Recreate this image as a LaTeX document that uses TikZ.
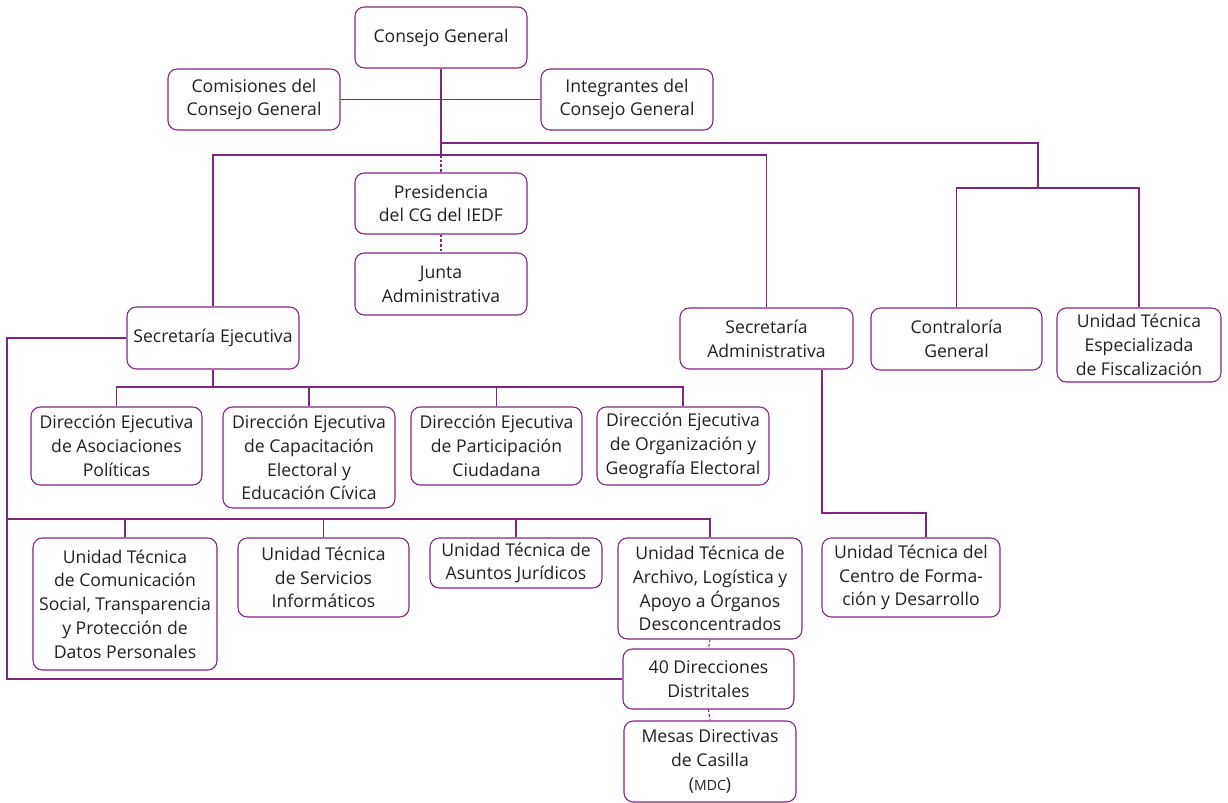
\documentclass[tikz,border=0pt]{standalone}
\usepackage{fontspec}
\setmainfont{Open Sans}
\usetikzlibrary{calc}

\definecolor{morado}{RGB}{128,38,128}
\definecolor{texto}{RGB}{35,31,32}

\begin{document}
\begin{tikzpicture}[x=0.75pt, y=-0.75pt,
    caja/.style={draw=morado, line width=0.8pt, rounded corners=7pt, align=center,
      inner sep=0pt, text=texto, font=\fontsize{13.2}{17.8}\selectfont},
    wd/.style={minimum width=#1*0.75pt},
    ht/.style={minimum height=#1*0.75pt},
    liga/.style={draw=morado, line width=0.8pt},
    punteada/.style={liga, dash pattern=on 2pt off 1.5pt}]
    \useasboundingbox (0,0) rectangle (1228,803);

    % consejo
    \node (cg) at (441,37.5) [caja, wd=172, ht=61] {Consejo General};
    \node (com) at (254,99.5) [caja, wd=172, ht=61] {Comisiones del\\Consejo General};
    \node (int) at (627,99.5) [caja, wd=172, ht=61] {Integrantes del\\Consejo General};
    \node (pres) at (441,203.5) [caja, wd=172, ht=61] {Presidencia\\del CG del IEDF};
    \node (junta) at (441,284) [caja, wd=172, ht=62] {Junta\\Administrativa};

    \node (sej) at (213,338) [caja, wd=172, ht=62] {Secretaría Ejecutiva};
    \node (sadm) at (766.5,338.5) [caja, wd=173, ht=61] {Secretaría\\Administrativa};
    \node (contr) at (956.5,339) [caja, wd=171, ht=62] {Contraloría\\General};
    \node (utesp) at (1139,345) [caja, wd=164, ht=74] {Unidad Técnica\\Especializada\\de Fiscalización};

    % direcciones ejecutivas
    \node (deasoc) at (116.5,446) [caja, wd=171, ht=78] {Dirección Ejecutiva\\de Asociaciones\\Políticas};
    \node (decap) at (309,457.5) [caja, wd=172, ht=101] {Dirección Ejecutiva\\de Capacitación\\Electoral y\\Educación Cívica};
    \node (depart) at (496.5,446) [caja, wd=171, ht=78] {Dirección Ejecutiva\\de Participación\\Ciudadana};
    \node (deorg) at (683,446) [caja, wd=172, ht=78] {Dirección Ejecutiva\\de Organización y\\Geografía Electoral};

    % unidades tecnicas
    \node (utcom) at (125,604) [caja, wd=184, ht=132] {Unidad Técnica\\de Comunicación\\Social, Transparencia\\y Protección de\\Datos Personales};
    \node (utserv) at (323.5,577.5) [caja, wd=171, ht=79] {Unidad Técnica\\de Servicios\\Informáticos};
    \node (utjur) at (516,563) [caja, wd=172, ht=50] {Unidad Técnica de\\Asuntos Jurídicos};
    \node (utarch) at (710,588.5) [caja, wd=184, ht=101] {Unidad Técnica de\\Archivo, Logística y\\Apoyo a Órganos\\Desconcentrados};
    \node (dist) at (708.5,679) [caja, wd=171, ht=60] {40 Direcciones\\Distritales};
    \node (mdc) at (710,761.5) [caja, wd=172, ht=81] {Mesas Directivas\\de Casilla\\({\fontsize{10.5}{14}\selectfont MDC})};
    \node (utcfd) at (911,577.5) [caja, wd=178, ht=79] {Unidad Técnica del\\Centro de Forma-\\ción y Desarrollo};

    \coordinate (j1) at (441,143);
    \coordinate (j2) at (441,155);
    \coordinate (rt) at (1038,188);
    \coordinate (b1) at (213,387);
    \coordinate (b2) at (7,519);
    \coordinate (lf) at (7,679);
    \coordinate (b3) at (822,513);
    \coordinate (c3) at (926,513);

    \draw[liga] (com.east) -- (int.west);
    \draw[liga] (cg.south) -- (j2);
    \draw[punteada] (j2) -- (pres.north);
    \draw[punteada] (pres.south) -- (junta.north);
    \draw[liga] (j1) -| (rt);
    \draw[liga] (contr.north) |- (rt) -| (utesp.north);
    \draw[liga] (sej.north) |- (j2) -| (sadm.north);

    \draw[liga] (sej.south) -- (b1);
    \draw[liga] (deasoc.north) |- (b1) -| (deorg.north);
    \foreach \de in {decap,depart} {
      \draw[liga] (\de.north) -- (\de.north |- b1);
    }

    \draw[liga] (sej.west) -| (lf) -- (dist.west);
    \draw[liga] (b2) -| (utarch.north);
    \foreach \ut in {utcom,utserv,utjur} {
      \draw[liga] (\ut.north) -- (\ut.north |- b2);
    }
    \draw[punteada] (utarch.south) -- (dist.north);
    \draw[punteada] (dist.south) -- (mdc.north);

    \draw[liga] (sadm.south -| b3) -- (b3) -- (c3) -- (c3 |- utcfd.north);
\end{tikzpicture}
\end{document}
